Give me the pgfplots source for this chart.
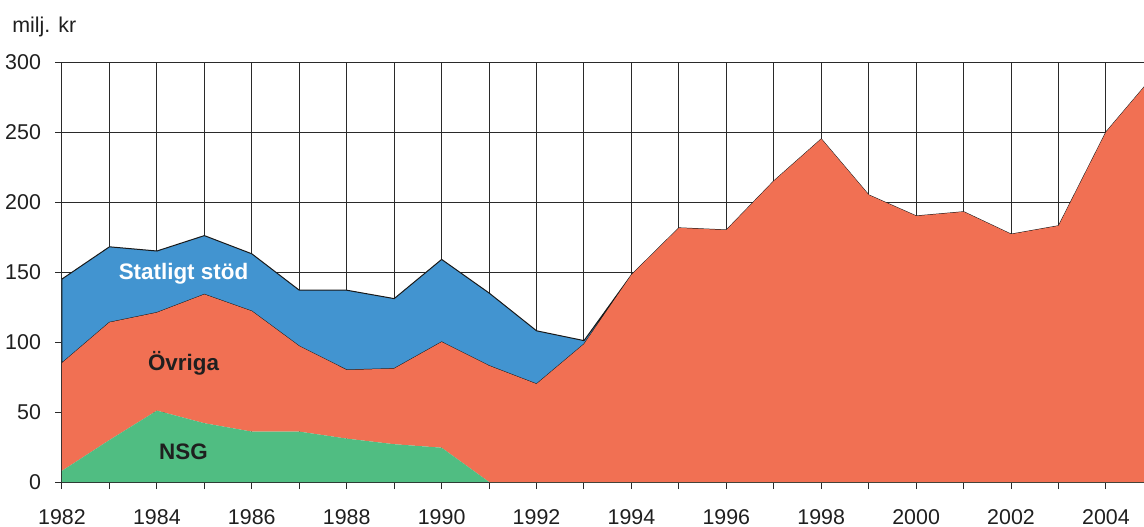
\documentclass[border=0pt]{standalone}
\usepackage{pgfplots}
\pgfplotsset{compat=1.18}
\usepackage{pgfplotstable}
\usepackage{fontspec}
\setmainfont{Liberation Sans}
\definecolor{cOvr}{HTML}{F17053}
\definecolor{cStat}{HTML}{4294D0}
\definecolor{cNsg}{HTML}{50BD82}
\definecolor{cGrid}{HTML}{2A2A2A}
\pgfplotstableread{
year nsg ovr stat
1982 8 77 60
1983 30 84 54
1984 51 70 44
1985 42 92 42
1986 36 86 41
1987 36 61 40
1988 31 49 57
1989 27 54 50
1990 24.5 75.5 59
1991 0 83 52
1992 0 70 38
1993 0 98.5 2.5
1994 0 148 0
1995 0 181.5 0
1996 0 180 0
1997 0 215 0
1998 0 245 0
1999 0 205 0
2000 0 190 0
2001 0 193 0
2002 0 177 0
2003 0 183 0
2004 0 250 0
2005 0 290 0
}\data
\pgfplotsset{layers/mine/.define layer set={axis background,axis grid,main,axis ticks,axis lines,axis tick labels,axis descriptions,axis foreground}{}}
\begin{document}
\begin{tikzpicture}
\begin{axis}[
 set layers=mine,
 at={(0,0)}, anchor=south west,
 scale only axis, width=541pt, height=210pt,
 xmin=1982, xmax=2004.8, ymin=0, ymax=300,
 axis x line=bottom, axis y line=left,
 axis line style={-, line width=0.5pt, cGrid},
 xtick={1982,...,2004},
 xticklabels={1982,,1984,,1986,,1988,,1990,,1992,,1994,,1996,,1998,,2000,,2002,,2004},
 ytick={0,50,...,300},
 tick align=center, major tick length=7pt,
 tick style={line width=0.5pt, cGrid},
 grid=major, major grid style={line width=0.5pt, cGrid},
 stack plots=y,
 ticklabel style={font=\fontsize{10.7}{12}\selectfont, text=black!88},
 xticklabel style={yshift=-6.5pt},
 yticklabel style={xshift=-3.5pt},
 /pgf/number format/assume math mode=true,
]
\addplot[fill=cNsg, draw=none] table[x=year,y=nsg] {\data} \closedcycle;
\addplot[fill=cOvr, draw=none] table[x=year,y=ovr] {\data} \closedcycle;
\addplot[fill=cStat, draw=black!90, line width=0.5pt] table[x=year,y=stat] {\data} \closedcycle;
\coordinate (lS) at (axis cs:1984.56,148.6);
\coordinate (lO) at (axis cs:1984.56,85);
\coordinate (lN) at (axis cs:1984.56,21.4);
\end{axis}
\node[font=\bfseries\fontsize{11.2}{13}\selectfont, text=white] at (lS) {Statligt stöd};
\node[font=\bfseries\fontsize{11.2}{13}\selectfont, text=black!88] at (lO) {Övriga};
\node[font=\bfseries\fontsize{11.2}{13}\selectfont, text=black!88] at (lN) {NSG};
\node[anchor=base west, inner sep=0pt, font=\fontsize{10.7}{12}\selectfont, text=black!88] at (-25pt,224.9pt) {milj. kr};
\pgfresetboundingbox
\path[use as bounding box] (-31pt,-22pt) rectangle (541pt,241pt);
\end{tikzpicture}
\end{document}
